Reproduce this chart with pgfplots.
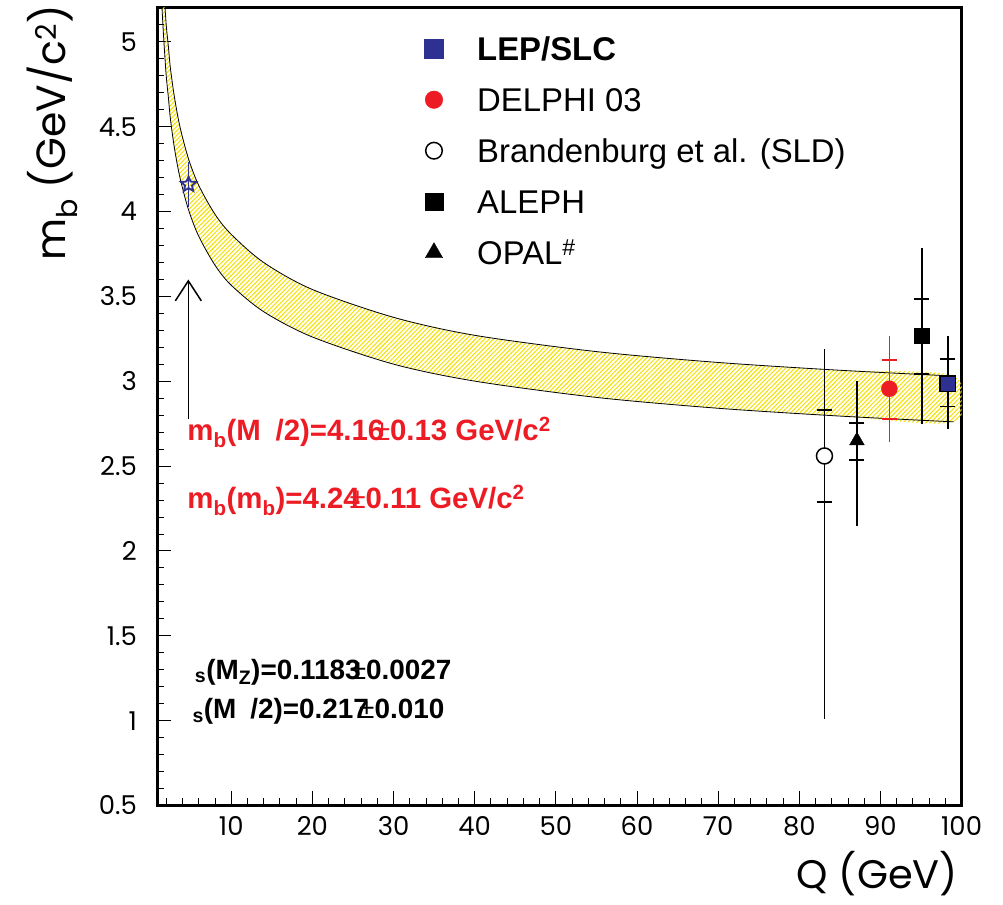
\documentclass[border=0pt]{standalone}
\usepackage{pgfplots}
\pgfplotsset{compat=1.18}
\usepackage{pgfplotstable}
\usetikzlibrary{patterns.meta, arrows.meta}
\usepackage{fontspec}
\setmainfont{Liberation Sans}
\newfontfamily\popp{Poppins}

\definecolor{blueC}{HTML}{2E3192}
\definecolor{redC}{HTML}{ED1C24}
\definecolor{yelC}{HTML}{F5E10A}

\pgfdeclareplotmark{ostar}{%
  \pgfpathmoveto{\pgfpointpolar{90}{\pgfplotmarksize}}%
  \pgfpathlineto{\pgfpointscale{0.45}{\pgfpointpolar{126}{\pgfplotmarksize}}}%
  \pgfpathlineto{\pgfpointpolar{162}{\pgfplotmarksize}}%
  \pgfpathlineto{\pgfpointscale{0.45}{\pgfpointpolar{198}{\pgfplotmarksize}}}%
  \pgfpathlineto{\pgfpointpolar{234}{\pgfplotmarksize}}%
  \pgfpathlineto{\pgfpointscale{0.45}{\pgfpointpolar{270}{\pgfplotmarksize}}}%
  \pgfpathlineto{\pgfpointpolar{306}{\pgfplotmarksize}}%
  \pgfpathlineto{\pgfpointscale{0.45}{\pgfpointpolar{342}{\pgfplotmarksize}}}%
  \pgfpathlineto{\pgfpointpolar{18}{\pgfplotmarksize}}%
  \pgfpathlineto{\pgfpointscale{0.45}{\pgfpointpolar{54}{\pgfplotmarksize}}}%
  \pgfpathclose
  \pgfusepathqstroke
}

% band edges: Q, upper, lower
\pgfplotstableread{
Q up lo
1.45 5.52 5.22
1.50 5.47 5.17
1.65 5.34 5.04
1.80 5.229 4.929
2.00 5.092 4.792
2.25 4.974 4.674
2.50 4.847 4.547
3.00 4.674 4.374
3.68 4.50 4.20
4.74 4.31 4.01
6.00 4.154 3.854
8.00 3.984 3.684
10.0 3.866 3.566
14.0 3.70 3.41
20.0 3.541 3.261
30.0 3.377 3.101
40.0 3.271 3.001
55.0 3.175 2.905
70.0 3.111 2.841
85.0 3.065 2.795
99.0 3.031 2.761
}\band

\begin{document}
\begin{tikzpicture}
\path[use as bounding box] (0bp,0bp) rectangle (1003bp,905bp);
\begin{axis}[
  at={(157bp,99.5bp)}, anchor=south west, scale only axis,
  width=804.6bp, height=797.5bp,
  xmin=0.85, xmax=100, ymin=0.5, ymax=5.2,
  axis line style={line width=3bp},
  xtick={10,20,...,100},
  minor xtick={2,4,...,98},
  ytick={0.5,1,1.5,2,2.5,3,3.5,4,4.5,5},
  minor ytick={0.6,0.7,0.8,0.9,1.1,1.2,1.3,1.4,1.6,1.7,1.8,1.9,2.1,2.2,2.3,2.4,2.6,2.7,2.8,2.9,3.1,3.2,3.3,3.4,3.6,3.7,3.8,3.9,4.1,4.2,4.3,4.4,4.6,4.7,4.8,4.9,5.1},
  tick align=inside, tick pos=left,
  major tick length=14bp, minor tick length=7bp,
  every tick/.style={black, line width=1bp},
  /pgf/number format/assume math mode=true,
  xticklabel style={font=\popp\fontsize{26}{26}\selectfont, inner sep=0pt, yshift=-11bp},
  yticklabel style={font=\popp\fontsize{26}{26}\selectfont, inner sep=0pt, xshift=-20bp},
  xlabel={Q (GeV)},
  xlabel style={at={(axis description cs:0.9955,-0.1045)}, anchor=base east, font=\popp\fontsize{40}{40}\selectfont, inner sep=0pt},
  ylabel={m\textsubscript{b} (GeV/c\textsuperscript{2})},
  ylabel style={at={(axis description cs:-0.1143,1.0038)}, anchor=base east, font=\popp\fontsize{41}{41}\selectfont, inner sep=0pt},
  legend style={at={(rel axis cs:0.3322,0.9724)}, anchor=north west, draw=none, fill=none, inner sep=0pt,
    row sep=14bp, column sep=33.7bp, font=\fontsize{33}{33}\selectfont,
    nodes={inner sep=0pt, text height=30bp, text depth=7bp}},
  legend cell align=left,
  legend image code/.code={\draw[#1] plot coordinates {(0bp,0bp)};},
]
% band (upper curve forward, lower curve backward)
\addplot[forget plot, smooth, draw=none, pattern={Lines[angle=45,distance=3.2bp,line width=1.1bp]}, pattern color=yelC] coordinates {
(1.45,5.52) (1.50,5.47) (1.65,5.34) (1.80,5.229) (2.00,5.092) (2.25,4.974) (2.50,4.847) (3.00,4.674) (3.68,4.50) (4.74,4.31) (6.00,4.154) (8.00,3.984) (10.0,3.866) (14.0,3.70) (20.0,3.541) (30.0,3.377) (40.0,3.271) (55.0,3.175) (70.0,3.111) (85.0,3.065) (99.0,3.031)
(99.0,2.761) (85.0,2.795) (70.0,2.841) (55.0,2.905) (40.0,3.001) (30.0,3.101) (20.0,3.261) (14.0,3.41) (10.0,3.566) (8.00,3.684) (6.00,3.854) (4.74,4.01) (3.68,4.20) (3.00,4.374) (2.50,4.547) (2.25,4.674) (2.00,4.792) (1.80,4.929) (1.65,5.04) (1.50,5.17) (1.45,5.22)
};
\addplot[forget plot, smooth, black, line width=0.8bp] table[x=Q, y=up] {\band};
\addplot[forget plot, smooth, black, line width=0.8bp] table[x=Q, y=lo] {\band};

% arrow
\addplot[forget plot, black, line width=1.5bp, -{Straight Barb[length=20bp, width=26bp, line width=1.5bp]}] coordinates {(4.71,2.78) (4.71,3.60)};

% star (Upsilon/2)
\addplot[forget plot, only marks, mark=ostar, mark size=8bp, blueC, mark options={line width=1.8bp},
  error bars/.cd, y dir=both, y explicit, error mark=none, error bar style={line width=1.5bp, blueC}]
  coordinates {(4.74,4.16) +- (0,0.13)};

% SLD (open circle)
\addplot[forget plot, only marks, mark=*, mark size=8bp, mark options={fill=white, draw=black, line width=1.5bp},
  error bars/.cd, y dir=both, y explicit, error mark=none, error bar style={line width=1.6bp, black}]
  coordinates {(83.1,2.56) += (0,0.63) -= (0,1.55)};
% OPAL
\addplot[forget plot, only marks, mark=triangle*, mark size=8.5bp, mark options={fill=black, draw=black},
  error bars/.cd, y dir=both, y explicit, error mark=none, error bar style={line width=1.6bp, black}]
  coordinates {(87.1,2.65) += (0,0.35) -= (0,0.50)};
% DELPHI
\addplot[forget plot, only marks, mark=*, mark size=8bp, mark options={fill=redC, draw=redC},
  error bars/.cd, y dir=both, y explicit, error mark=none, error bar style={line width=1.6bp, redC}]
  coordinates {(91.1,2.956) += (0,0.31) -= (0,0.315)};
% ALEPH
\addplot[forget plot, only marks, mark=square*, mark size=7.8bp, mark options={fill=black, draw=black},
  error bars/.cd, y dir=both, y explicit, error mark=none, error bar style={line width=1.6bp, black}]
  coordinates {(95.1,3.268) += (0,0.517) -= (0,0.519)};
% LEP/SLC
\addplot[forget plot, only marks, mark=square*, mark size=7.8bp, mark options={fill=blueC, draw=black, line width=1.3bp},
  error bars/.cd, y dir=both, y explicit, error mark=none, error bar style={line width=1.6bp, black}]
  coordinates {(98.3,2.985) += (0,0.279) -= (0,0.267)};

% inner (statistical) error ticks
\addplot[forget plot, only marks, color=black, mark=-, mark size=7.5bp, mark options={draw=black, line width=1.5bp}]
  coordinates {(83.1,2.83) (83.1,2.29) (87.1,2.753) (87.1,2.537) (95.1,3.486) (95.1,3.044) (98.3,3.13) (98.3,2.85)};
\addplot[forget plot, only marks, color=redC, mark=-, mark size=7.5bp, mark options={draw=redC, line width=1.8bp}]
  coordinates {(91.1,3.127) (91.1,2.777)};

% legend
\addlegendimage{only marks, mark=square*, mark size=9.5bp, mark options={fill=blueC, draw=blueC}}
\addlegendentry{\bfseries LEP/SLC}
\addlegendimage{only marks, mark=*, mark size=8.8bp, mark options={fill=redC, draw=redC}}
\addlegendentry{DELPHI 03}
\addlegendimage{only marks, mark=*, mark size=8.3bp, mark options={fill=white, draw=black, line width=1.5bp}}
\addlegendentry{Brandenburg et al. (SLD)}
\addlegendimage{only marks, mark=square*, mark size=8.8bp, mark options={fill=black, draw=black}}
\addlegendentry{ALEPH}
\addlegendimage{only marks, mark=triangle*, mark size=10bp, mark options={fill=black, draw=black}}
\addlegendentry{OPAL\textsuperscript{\#}}

% annotations
\node[anchor=base west, inner sep=0pt, text=redC, font=\bfseries\fontsize{29.5}{29.5}\selectfont] at (axis cs:4.58,2.649)
  {m\textsubscript{b}(M\hspace{0.5em}/2)=4.16\kern-0.35em{\mdseries ±}0.13 GeV/c\textsuperscript{2}};
\node[anchor=base west, inner sep=0pt, text=redC, font=\bfseries\fontsize{29.5}{29.5}\selectfont] at (axis cs:4.58,2.248)
  {m\textsubscript{b}(m\textsubscript{b})=4.24\kern-0.35em{\mdseries ±}0.11 GeV/c\textsuperscript{2}};
\node[anchor=base west, inner sep=0pt, font=\bfseries\fontsize{28}{28}\selectfont] at (axis cs:5.5,1.244)
  {\textsubscript{s}(M\textsubscript{Z})=0.1183\kern-0.35em{\mdseries ±}0.0027};
\node[anchor=base west, inner sep=0pt, font=\bfseries\fontsize{28}{28}\selectfont] at (axis cs:5.2,1.014)
  {\textsubscript{s}(M\hspace{0.5em}/2)=0.217\kern-0.35em{\mdseries ±}0.010};
\end{axis}
\end{tikzpicture}
\end{document}
